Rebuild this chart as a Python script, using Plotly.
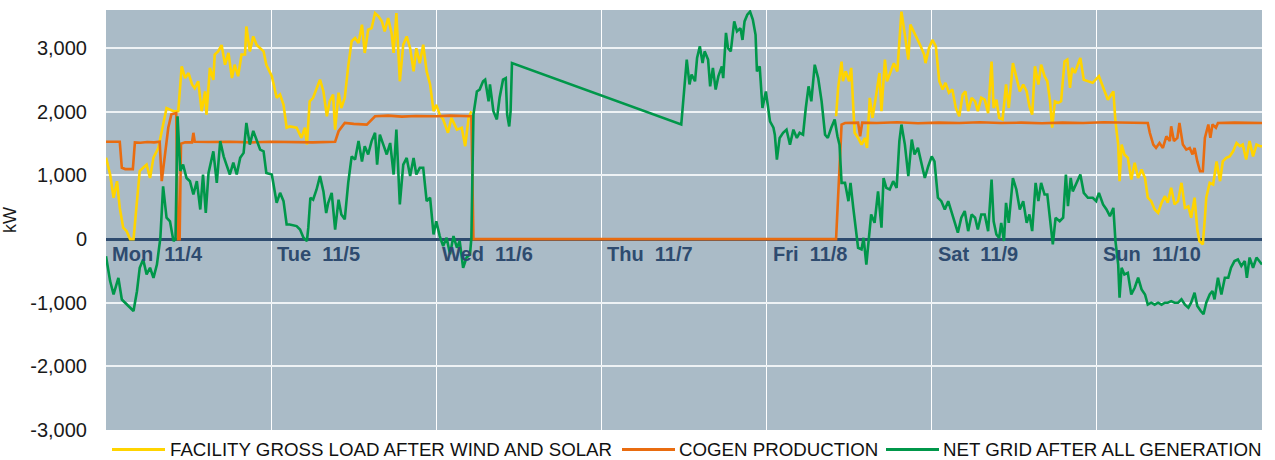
import pandas as pd
import plotly.graph_objects as go

# ---------------- data (hours from Mon 11/4 00:00, kW) ----------------
fac_hours = [0.0, 0.6, 1.1, 1.6, 2.0, 2.5, 3.0, 3.5, 4.0, 4.5, 4.9, 5.4, 5.9, 6.4, 6.9, 7.6, 7.9, 8.3, 8.8, 9.8,
             10.5, 11.0, 11.5, 12.0, 12.5, 12.9, 13.4, 13.9, 14.4, 14.6, 15.1, 15.6, 15.8, 16.3, 16.8, 17.3, 17.8,
             18.3, 18.7, 19.2, 19.7, 20.2, 20.4, 20.9, 21.4, 21.9, 22.4, 22.9, 23.3, 24.1, 24.8, 25.3, 25.8, 26.25,
             26.7, 27.7, 28.4, 28.9, 29.2, 29.6, 30.1, 30.6, 31.1, 31.6, 32.1, 32.5, 33.0, 33.3, 33.8, 34.2, 34.7,
             35.2, 35.7, 36.2, 36.7, 37.2, 37.6, 38.1, 38.6, 39.1, 39.6, 40.1, 40.5, 41.0, 41.5, 41.8, 42.2, 42.7,
             43.2, 43.7, 44.2, 44.7, 45.1, 45.6, 46.1, 46.6, 47.1, 47.6, 48.0, 48.5, 49.0, 49.7, 50.2, 51.0, 51.7,
             52.2, 52.7, 53.1, 53.3,
             106.1, 106.4, 106.9, 107.1, 107.5, 108.0, 108.3, 108.6, 108.8, 109.3, 109.8, 110.3, 110.6, 111.0,
             111.4, 111.9, 112.4, 112.7, 113.2, 113.5, 114.0, 114.5, 115.0, 115.4, 115.6, 116.1, 116.6, 116.9,
             117.4, 117.9, 118.4, 118.9, 119.1, 119.6, 120.1, 120.6, 121.1, 121.6, 122.0, 122.5, 123.0, 123.5,
             124.0, 124.5, 124.9, 125.3, 125.8, 126.3, 126.7, 127.2, 127.7, 128.2, 128.7, 129.0, 129.4, 129.8,
             130.3, 130.8, 131.2, 131.8, 132.3, 132.8, 133.3, 133.8, 134.2, 134.6, 135.0, 135.5, 135.9, 136.4,
             136.8, 137.2, 137.5, 137.9, 138.4, 138.8, 139.3, 139.7, 140.1, 140.4, 140.8, 141.3, 141.6, 142.1,
             142.7, 143.4, 144.3, 144.9, 145.6, 146.4, 146.7, 147.1, 147.3, 147.6, 148.0, 148.5, 149.0, 149.5,
             150.0, 150.5, 151.0, 151.4, 151.9, 152.4, 152.9, 153.4, 153.9, 154.3, 154.8, 155.3, 155.8, 156.3,
             156.8, 157.3, 157.7, 158.2, 158.6, 158.9, 159.4, 159.7, 159.9, 160.4, 160.9, 161.4, 161.9, 162.3,
             162.8, 163.3, 163.8, 164.3, 164.8, 165.2, 165.7, 166.2, 166.7, 167.2, 167.7, 168.0]
fac_kw = [1280, 1015, 650, 910, 490, 180, 125, 0, 0, 600, 1070, 1120, 1170, 960, 1280, 1430, 1590, 1750, 2060, 2010,
          2010, 2715, 2530, 2610, 2430, 2370, 2480, 2010, 2320, 1955, 2690, 2500, 2900, 2950, 3050, 2740, 2925,
          2530, 2740, 2560, 2900, 2900, 3340, 2950, 3185, 3050, 3000, 2950, 2740, 2560, 2220, 2270, 2110, 1750,
          1770, 1750, 1590, 1750, 1485, 2165, 2220, 2350, 2505, 2320, 1930, 2165, 2270, 1720, 2300, 2060, 2220,
          2715, 3110, 3160, 3080, 3370, 2925, 3290, 3315, 3550, 3500, 3420, 3265, 3475, 3240, 2925, 3550, 2480,
          3055, 3185, 3000, 2635, 3000, 2765, 3055, 2635, 2430, 2010, 2110, 1955, 1880, 1670, 1905, 1720, 1750,
          1460, 1905, 2010, None,
          1930, 2375, 2790, 2480, 2635, 2480, 2690, 2165, 1670, 1590, 1485, 1590, 1433, 2220,
          1905, 2245, 2610, 2010, 2820, 2480, 2635, 2765, 2635, 3370, 3575, 3210, 2820, 3370,
          3265, 3160, 3030, 2900, 2765, 3000, 3130, 3030, 2480, 2350, 2455, 2300, 2350, 2060,
          1930, 2270, 2320, 2010, 2220, 2165, 2010, 2220, 2190, 1980, 2790, 2060, 2190, 1905,
          1880, 2430, 2060, 2765, 2530, 2320, 2430, 2320, 2085, 1955, 2715, 2430, 2740, 2560,
          2480, 2165, 1750, 2165, 2140, 2165, 2790, 2820, 2375, 2690, 2610, 2740, 2845, 2505,
          2480, 2455, 2560, 2375, 2190, 2320, 1850, 1485, 910, 1485, 1330, 1276, 936, 1200,
          960, 1093, 960, 650, 596, 465, 413, 570, 675, 570, 805, 545, 596, 884,
          490, 515, 335, 650, 150, -30, -84, 335, 650, 884, 858, 1220, 910, 1220,
          1276, 1300, 1380, 1510, 1460, 1485, 1250, 1540, 1300, 1485, 1460, 1460]

cogen_hours = [0.0, 2.0, 2.3, 2.8, 3.9, 4.2, 5.0, 6.0, 7.0, 7.8, 8.1, 8.55, 9.05, 9.5, 10.2, 10.45, 10.7, 10.9,
               11.5, 12.5, 12.7, 12.9, 15.0, 18.0, 21.0, 24.0, 27.0, 30.0, 33.3, 33.8, 34.7, 36.0, 37.9, 39.1,
               41.0, 43.0, 45.0, 48.0, 50.0, 52.9, 53.1, 53.4, 106.1, 106.9, 107.4, 109.3, 109.6, 109.9, 112.0,
               115.0, 118.0, 121.0, 124.0, 127.0, 130.0, 133.0, 136.0, 139.0, 142.0, 145.0, 148.0, 151.4, 151.7,
               152.2, 152.6, 153.1, 153.6, 154.1, 154.6, 154.8, 155.2, 155.7, 156.0, 156.5, 157.0, 157.5, 157.9,
               158.2, 158.6, 159.0, 159.4, 159.7, 160.2, 160.5, 160.8, 161.3, 161.6, 164.0, 168.0]
cogen_kw = [1530, 1530, 1120, 1100, 1100, 1520, 1515, 1525, 1520, 1530, 910, 1280, 1750, 1960, 1980, 0, 0, 1500,
            1520, 1520, 1670, 1530, 1525, 1530, 1520, 1530, 1525, 1520, 1530, 1695, 1825, 1810, 1800, 1930,
            1940, 1925, 1935, 1930, 1940, 1930, 1930, 0, 0, 1800, 1825, 1830, 1615, 1830, 1825,
            1835, 1820, 1830, 1825, 1835, 1825, 1830, 1820, 1830, 1825, 1835, 1825, 1825, 1670,
            1485, 1433, 1510, 1433, 1615, 1540, 1773, 1540, 1590, 1825, 1485, 1407, 1433, 1330,
            1433, 1220, 1066, 1066, 1590, 1800, 1590, 1800, 1750, 1825, 1830, 1825]

grid_hours = [0.0, 0.6, 1.1, 1.8, 2.3, 2.8, 3.5, 4.0, 4.5, 4.9, 5.4, 5.9, 6.4, 6.9, 7.4, 7.9, 8.3, 8.8, 9.3, 9.8,
              10.1, 10.4, 10.8, 11.2, 11.7, 12.2, 12.7, 13.2, 13.7, 14.1, 14.5, 14.9, 15.6, 16.1, 16.6, 17.1, 17.5,
              18.0, 18.5, 19.0, 19.5, 20.0, 20.4, 20.9, 21.4, 21.9, 22.4, 22.9, 23.3, 24.1, 24.8, 25.3, 25.8, 26.25,
              26.7, 27.7, 28.2, 28.7, 29.2, 29.4, 29.7, 30.1, 30.6, 31.1, 31.6, 32.0, 32.3, 32.8, 33.3, 33.8, 34.2,
              34.7, 35.2, 35.7, 36.2, 36.7, 37.2, 37.6, 38.1, 38.6, 39.1, 39.4, 39.8, 40.3, 40.8, 41.3, 41.8, 42.2,
              42.7, 43.2, 43.7, 44.2, 44.7, 45.1, 45.6, 46.1, 46.6, 47.1, 47.6, 48.0, 48.5, 49.0, 49.5, 50.0, 50.5,
              51.0, 51.4, 51.9, 52.4, 52.9, 53.1, 53.4, 53.9, 54.3, 54.8, 55.1, 55.6, 55.8, 56.3, 56.8, 57.2, 57.7,
              58.1, 58.3, 58.6, 58.8, 59.0, 83.6, 84.0, 84.4, 84.8, 85.1, 85.6, 85.9, 86.3, 86.7, 87.0, 87.5, 87.8,
              88.2, 88.6, 89.0, 89.5, 89.7, 90.1, 90.4, 90.8, 91.3, 91.7, 92.2, 92.5, 92.8, 93.2, 93.6, 94.0, 94.4,
              94.6, 95.0, 95.4, 95.9, 96.5, 97.0, 97.2, 97.5, 97.9, 98.4, 98.9, 99.4, 99.9, 100.4, 100.8, 101.3,
              101.7, 102.1, 102.5, 103.0, 103.5, 104.0, 104.5, 104.9, 105.4, 105.9, 106.3, 106.6, 106.9, 107.4,
              107.9, 108.2, 108.6, 109.0, 109.3, 109.8, 110.1, 110.5, 110.9, 111.2, 111.7, 112.2, 112.7, 113.0,
              113.4, 113.9, 114.4, 114.9, 115.3, 115.6, 116.1, 116.6, 117.1, 117.5, 118.0, 118.5, 119.0, 119.5,
              120.0, 120.4, 120.9, 121.4, 121.9, 122.4, 122.9, 123.4, 123.8, 124.3, 124.8, 125.3, 125.8, 126.3,
              126.7, 127.2, 127.7, 128.2, 128.7, 129.0, 129.4, 129.8, 130.1, 130.5, 130.8, 131.2, 131.8, 132.3,
              132.8, 133.3, 133.8, 134.2, 134.6, 135.1, 135.5, 135.9, 136.4, 136.8, 137.2, 137.6, 138.0, 138.6,
              139.1, 139.5, 139.8, 140.2, 140.5, 141.0, 141.6, 142.1, 142.7, 143.4, 143.9, 144.3, 144.9, 145.4,
              145.9, 146.4, 146.7, 147.1, 147.3, 147.6, 148.0, 148.5, 149.0, 149.5, 150.0, 150.5, 151.0, 151.4,
              151.9, 152.4, 152.9, 153.4, 153.9, 154.3, 154.8, 155.3, 155.8, 156.3, 156.8, 157.3, 157.7, 158.2,
              158.6, 159.1, 159.5, 159.9, 160.4, 160.8, 161.1, 161.6, 162.1, 162.6, 163.1, 163.5, 164.0, 164.5,
              165.0, 165.5, 165.8, 166.2, 166.7, 167.2, 167.7, 168.0]
grid_kw = [-270, -660, -870, -610, -950, -1000, -1080, -1130, -820, -450, -320, -555, -450, -610, -400, 20, 830, 335, 280, -30,
           0, 1930, 1070, 1170, 960, 910, 700, 910, 465, 1015, 413, 1040, 1380, 884, 1540, 1300, 1170,
           1015, 1200, 1015, 1276, 1355, 1825, 1485, 1700, 1540, 1407, 1380, 1040, 1015, 570, 727, 596, 230,
           230, 204, 150, 20, -30, 180, 650, 620, 780, 990, 750, 410, 570, 727, 150, 620, 387,
           310, 884, 1300, 1250, 1540, 1220, 1460, 1330, 1540, 1670, 1170, 1640, 1485, 1330, 1510, 1015, 1720,
           545, 1170, 1276, 990, 1276, 1015, 1120, 1120, 596, 650, 73, 280, 47, -110, 20, -240, 47,
           -136, -30, -450, -290, -240, 20, 1955, 2320, 2350, 2480, 2505, 2165, 2430, 2010, 1880, 2220, 2505,
           2530, 1955, 1770, 2010, 2765, 1800, 2350, 2820, 2430, 2585, 2480, 2845, 3030, 2765, 2950, 2820, 2400,
           2690, 2350, 2560, 2715, 2530, 3240, 3000, 2950, 3420, 3265, 3315, 3130, 3420, 3525, 3575, 3450, 3210,
           2635, 2715, 2060, 2320, 1850, 1750, 1640, 1250, 1590, 1670, 1720, 1485, 1720, 1590, 1670, 1640,
           2060, 2400, 2165, 2740, 2530, 2165, 1640, 1590, 1750, 1880, 1615, 1485, 884, 884,
           596, 884, 490, 125, -136, -160, 20, -400, 73, 387, 255, 750, 180, 960,
           805, 780, 910, 805, 1540, 1800, 1485, 990, 1565, 1330, 1433, 1200, 960, 1145,
           1300, 1220, 650, 596, 465, 596, 413, 255, 100, 335, 440, 125, 387, 335,
           150, 387, 387, 125, 936, 280, 73, 20, 255, -30, 570, 255, 960, 780,
           465, 596, 255, 387, 125, 884, 596, 884, 700, 700, 310, -84, 335, 280,
           335, 1015, 518, 960, 750, 884, 1015, 727, 650, 650, 596, 727, 545, 465,
           360, 490, -30, -400, -920, -450, -555, -530, -870, -765, -607, -790, -870, -1030,
           -1000, -1030, -1000, -1030, -1000, -1000, -975, -1000, -1000, -947, -1030, -1077, -1000, -842,
           -1050, -1130, -1180, -1000, -870, -816, -947, -607, -870, -607, -607, -450, -345, -320,
           -424, -345, -607, -290, -450, -290, -370, -400]

day_labels = ["Mon\u00a0\u00a011/4", "Tue\u00a0\u00a011/5", "Wed\u00a0\u00a011/6", "Thu\u00a0\u00a011/7",
              "Fri\u00a0\u00a011/8", "Sat\u00a0\u00a011/9", "Sun\u00a0\u00a011/10"]
y_tick_vals = [-3000, -2000, -1000, 0, 1000, 2000, 3000]
y_tick_text = ["-3,000", "-2,000", "-1,000", "0", "1,000", "2,000", "3,000"]

series_names = ["FACILITY GROSS LOAD AFTER WIND AND SOLAR", "COGEN PRODUCTION", "NET GRID AFTER ALL GENERATION"]

# ---------------- figure ----------------
base = pd.Timestamp("2019-11-04")


def to_time(hours):
    return [base + pd.Timedelta(hours=h) for h in hours]


FONT = "Liberation Sans, Arial, sans-serif"
colors = ["#FFD400", "#E96C10", "#00974A"]

W, H = 1275, 460
ML, MR, MT, MB = 106, 13, 10, 30
PW, PH = W - ML - MR, H - MT - MB

fig = go.Figure()
for name, hrs, vals, col in zip(series_names,
                                [fac_hours, cogen_hours, grid_hours],
                                [fac_kw, cogen_kw, grid_kw], colors):
    fig.add_trace(go.Scatter(x=to_time(hrs), y=vals, mode="lines", name=name,
                             line=dict(color=col, width=2.6), connectgaps=False, showlegend=False))

# day labels sitting just under the zero line
day_starts = pd.date_range(base, periods=7, freq="D")
for d, lab in zip(day_starts, day_labels):
    fig.add_annotation(x=d, y=0, xref="x", yref="y", text="<b>%s</b>" % lab, showarrow=False,
                       xanchor="left", yanchor="top", xshift=4, yshift=-2,
                       font=dict(family=FONT, size=20, color="#2E4B6F"))

# legend drawn below the plot (line sample + label)
legend_line_px = [(112, 165), (622, 675), (886, 939)]
legend_text_px = [169, 678, 942]
leg_y = -(449.5 - (MT + PH)) / PH
for name, col, (x0, x1), tx in zip(series_names, colors, legend_line_px, legend_text_px):
    fig.add_shape(type="line", xref="paper", yref="paper",
                  x0=(x0 - ML) / PW, x1=(x1 - ML) / PW, y0=leg_y, y1=leg_y,
                  line=dict(color=col, width=3))
    fig.add_annotation(xref="paper", yref="paper", x=(tx - ML) / PW, y=leg_y, text=name,
                       showarrow=False, xanchor="left", yanchor="middle", borderpad=0,
                       font=dict(family=FONT, size=18.7, color="#111111"))

fig.update_layout(
    width=W, height=H,
    margin=dict(l=ML, r=MR, t=MT, b=MB, autoexpand=False),
    paper_bgcolor="white", plot_bgcolor="#AABBC7",
    font=dict(family=FONT, size=16, color="#1a1a1a"),
    showlegend=False,
)
fig.update_xaxes(range=[base, base + pd.Timedelta(days=7)], type="date", automargin=False,
                 showgrid=True, gridcolor="#FFFFFF", gridwidth=1.3,
                 dtick=86400000, tick0=base, showticklabels=False, ticks="",
                 zeroline=False, showline=False)
fig.update_yaxes(range=[-3000, 3600], tickvals=y_tick_vals, ticktext=y_tick_text, automargin=False,
                 showgrid=True, gridcolor="#EEF2F5", gridwidth=1.8,
                 zeroline=True, zerolinecolor="#2E4B6F", zerolinewidth=3,
                 tickfont=dict(family=FONT, size=20, color="#1a1a1a"),
                 ticklabelstandoff=18, ticks="",
                 title=dict(text="kW", font=dict(family=FONT, size=18, color="#1a1a1a"), standoff=14))

fig.write_html("out.html", config={"displayModeBar": False},
               post_script="document.body.style.margin='0';document.body.style.overflow='hidden';")
